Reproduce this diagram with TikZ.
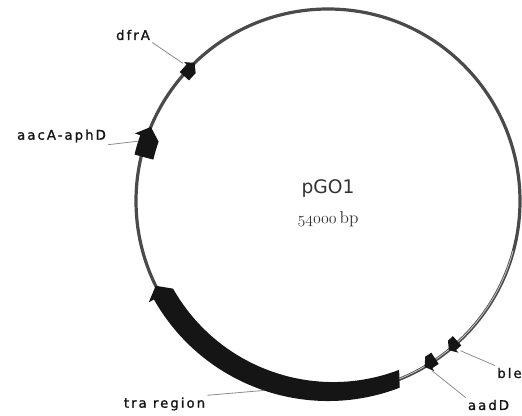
\documentclass[tikz,border=0pt]{standalone}
\usepackage{fontspec}
\usepackage{xcolor}
\usetikzlibrary{positioning,calc}
\newfontfamily\labelfont[LetterSpace=15,FakeBold=1.2]{DejaVu Sans}
\newfontfamily\namefont{DejaVu Sans}
\newcommand\osnum[1]{{\usefont{OML}{cmm}{m}{it}#1}}
\definecolor{ink}{HTML}{151515}
\definecolor{tube}{HTML}{4a4a4a}
\definecolor{shine}{HTML}{c4c4c4}
\definecolor{lead}{HTML}{8c8c8c}
\definecolor{soft}{HTML}{333333}

% gene arrow on the backbone (radius 192): start, head base, tip, body half width, head half width
\newcommand\genearrow[5]{%
  \fill[ink] (#1:{192+#4}) arc[start angle=#1,end angle=#2,radius={192+#4}]
    -- (#2:{192+#5}) -- (#3:192) -- (#2:{192-#5})
    arc[start angle=#2,end angle=#1,radius={192-#4}] -- cycle;}

\begin{document}
\begin{tikzpicture}[x=0.75pt,y=0.75pt,
  genelabel/.style={inner sep=1.5pt,font=\labelfont\fontsize{10}{12}\selectfont,text=ink},
  leader/.style={lead,line width=0.6pt}]

  \useasboundingbox (0,0) rectangle (522,415);

  % ---------------------------------------------------------------- BACKBONE
  \begin{scope}[shift={(328,214)}]
    \draw[tube,line width=2.4pt] (0,0) circle (192);
    \draw[shine,line width=0.6pt] (-100:191.6) arc[start angle=-100,end angle=-15,radius=191.6];

    % genes, all clockwise
    \genearrow{-69}{-150.5}{-153.8}{8}{14}      % tra region
    \genearrow{166.5}{160.7}{157.3}{7}{12.5}    % aacA-aphD
    \genearrow{139}{136}{134}{4.5}{8}           % dfrA
    \genearrow{-55.8}{-58}{-59.8}{5}{8.5}       % aadD
    \genearrow{-47.3}{-49.3}{-51}{4.5}{8}       % ble

    \coordinate (dfr-pt) at (136.5:200);
    \coordinate (aac-pt) at (162.5:199);
    \coordinate (tra-pt) at (-108.7:200);
    \coordinate (aad-pt) at (-58.5:199);
    \coordinate (ble-pt) at (-48.5:200);
  \end{scope}

  % ---------------------------------------------------------------- TITLE
  \node[font=\namefont\fontsize{14}{16}\selectfont,text=soft] (name) at (328,226) {pGO1};
  \node[font=\rmfamily\fontsize{13}{15}\selectfont,text=soft] (size) at (328,196) {\osnum{54000}\,bp};

  % ---------------------------------------------------------------- LABELS
  \node[genelabel] (dfr) at (133,380) {dfrA};
  \node[genelabel] (aac) at (61.5,279) {aacA-aphD};
  \node[genelabel] (tra) at (164.5,11) {tra region};
  \node[genelabel] (aad) at (488.5,10) {aadD};
  \node[genelabel] (ble) at (509.5,42) {ble};

  \draw[leader] (dfr.south east) -- (dfr-pt);
  \draw[leader] (aac.south east) -- (aac-pt);
  \draw[leader] (tra.north east) -- (tra-pt);
  \draw[leader] (aad.north west) -- (aad-pt);
  \draw[leader] (ble.north west) -- (ble-pt);

\end{tikzpicture}
\end{document}
